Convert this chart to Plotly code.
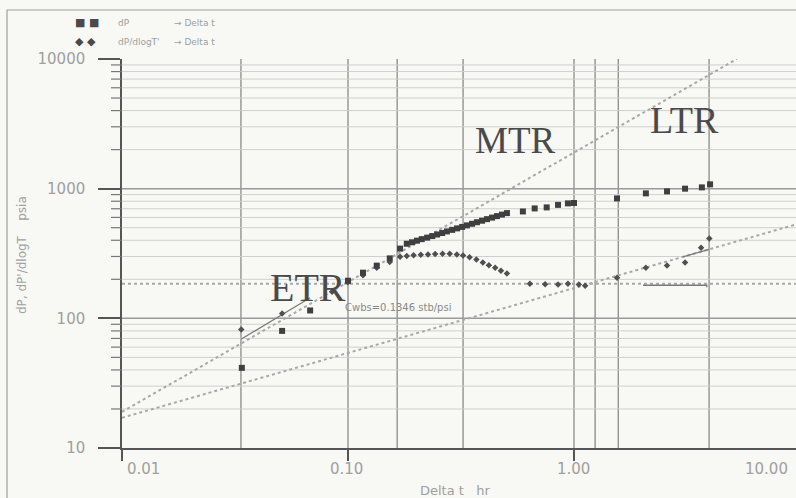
import plotly.graph_objects as go

# ---------------- data ----------------
dp_t = [0.0339, 0.0511, 0.068, 0.100, 0.1165, 0.134, 0.153, 0.170, 0.182, 0.192,
        0.202, 0.212, 0.224, 0.236, 0.248, 0.261, 0.274, 0.289, 0.304, 0.320,
        0.336, 0.354, 0.372, 0.392, 0.412, 0.434, 0.456, 0.480, 0.505, 0.594,
        0.670, 0.757, 0.850, 0.940, 1.00, 1.55, 2.08, 2.58, 3.10, 3.68, 4.00]
dp_v = [41.5, 80, 115, 195, 225, 255, 290, 345, 376, 386,
        397, 408, 419, 431, 443, 455, 468, 481, 494, 507,
        521, 536, 551, 566, 582, 598, 614, 631, 648, 667,
        704, 717, 750, 770, 775, 841, 920, 953, 1000, 1023, 1080]

der_t = [0.0337, 0.0511, 0.085, 0.100, 0.1165, 0.134, 0.153, 0.170, 0.182, 0.195,
         0.210, 0.226, 0.243, 0.262, 0.282, 0.303, 0.323, 0.345, 0.370, 0.395,
         0.420, 0.448, 0.475, 0.505, 0.638, 0.745, 0.85, 0.94, 1.05, 1.12,
         1.55, 2.08, 2.58, 3.10, 3.65, 3.97]
der_v = [82, 109, 160, 190, 215, 245, 272, 299, 303, 306,
         309, 311, 313, 315, 315, 310, 305, 296, 284, 270,
         257, 245, 233, 222, 185, 183, 182, 185, 182, 178,
         206, 246, 255, 269, 351, 413]

# straight model lines (end points)
unit_slope_t = [0.01, 5.26]
unit_slope_v = [19, 10000]
half_slope_t = [0.01, 9.6]
half_slope_v = [17.1, 530]
radial_t = [0.01, 9.6]
radial_v = [185, 185]
wbs_fit_t = [0.0336, 0.068]
wbs_fit_v = [69, 144]
radial_fit_t = [2.02, 3.87, 3.87]
radial_fit_v = [180, 180, 174]
half_fit_t = [3.03, 3.96]
half_fit_v = [298, 340]

marker_times = [0.0336, 0.1, 0.165, 0.323, 1.0, 1.24, 1.57, 3.96]
y_major = [10, 100, 1000, 10000]
y_tick_text = ["10", "100", "1000", "10000"]
x_major = [0.01, 0.1, 1.0]
x_tick_text = ["0.01", "0.10", "1.00", "10.00"]

# ---------------- geometry helpers ----------------
W, H = 796, 498
L, R, T, B = 122, 796, 59, 448


def px_x(x):
    return (x - L) / (R - L)


def px_y(y):
    return (B - y) / (B - T)


BG = "#f8f8f4"
GRID_MINOR = "#cfcfcf"
GRID_MAJOR = "#9a9a9a"
TXT = "#a0a0a0"
MARK = "#3f3f3f"

fig = go.Figure()

# model lines (dotted)
for tt, vv in [(unit_slope_t, unit_slope_v), (half_slope_t, half_slope_v), (radial_t, radial_v)]:
    fig.add_trace(go.Scatter(x=tt, y=vv, mode="lines", showlegend=False, hoverinfo="skip",
                             line=dict(color="#a8a8a8", width=2, dash="dot")))
# solid fit segments
for tt, vv in [(wbs_fit_t, wbs_fit_v), (radial_fit_t, radial_fit_v), (half_fit_t, half_fit_v)]:
    fig.add_trace(go.Scatter(x=tt, y=vv, mode="lines", showlegend=False, hoverinfo="skip",
                             line=dict(color="#7a7a7a", width=1.3)))

fig.add_trace(go.Scatter(x=der_t, y=der_v, mode="markers", name="dP/dlogT'",
                         marker=dict(symbol="diamond", size=5, color="#505050")))
fig.add_trace(go.Scatter(x=dp_t, y=dp_v, mode="markers", name="dP",
                         marker=dict(symbol="square", size=6, color=MARK)))

shapes = []
# vertical marker lines
for t in marker_times:
    shapes.append(dict(type="line", xref="x", yref="paper", x0=t, x1=t, y0=0, y1=1,
                       line=dict(color="#8a8a8a", width=1.3), layer="below"))
# horizontal grid lines (minor and major)
for dec in [10, 100, 1000]:
    for k in range(2, 10):
        v = dec * k
        shapes.append(dict(type="line", xref="paper", yref="y", x0=0, x1=1, y0=v, y1=v,
                           line=dict(color=GRID_MINOR, width=1), layer="below"))
        # minor ticks outside
        shapes.append(dict(type="line", xref="paper", yref="y", x0=px_x(L - 11), x1=0,
                           y0=v, y1=v, line=dict(color="#777777", width=1.2)))
for v in [100, 1000]:
    shapes.append(dict(type="line", xref="paper", yref="y", x0=0, x1=1, y0=v, y1=v,
                       line=dict(color=GRID_MAJOR, width=1.5), layer="below"))
# outer frame
shapes.append(dict(type="rect", xref="paper", yref="paper", x0=px_x(7), x1=px_x(W + 5),
                   y0=px_y(H + 5), y1=px_y(10), line=dict(color="#a0a0a0", width=1.2)))

annotations = []
# x tick labels
for txt, xc in zip(x_tick_text, [143, 346, 573, 766]):
    annotations.append(dict(text=txt, xref="paper", yref="paper", x=px_x(xc), y=px_y(469),
                            showarrow=False, xanchor="center", yanchor="middle",
                            font=dict(family="DejaVu Sans", size=15, color=TXT)))
# axis titles
annotations.append(dict(text="Delta t   hr", xref="paper", yref="paper", x=px_x(455), y=px_y(490),
                        showarrow=False, xanchor="center", yanchor="middle",
                        font=dict(family="DejaVu Sans", size=13, color=TXT)))
annotations.append(dict(text="dP, dP'/dlogT    psia", xref="paper", yref="paper", x=px_x(22),
                        y=px_y(255), showarrow=False, textangle=-90, xanchor="center",
                        yanchor="middle", font=dict(family="DejaVu Sans", size=12, color=TXT)))
# regime labels
for txt, xc, yc, sz in [("ETR", 308, 287, 40), ("MTR", 515, 140, 37), ("LTR", 684, 120, 38)]:
    annotations.append(dict(text=txt, xref="paper", yref="paper", x=px_x(xc), y=px_y(yc),
                            showarrow=False, xanchor="center", yanchor="middle",
                            font=dict(family="Liberation Serif", size=sz, color="#4a4a4a")))
annotations.append(dict(text="Cwbs=0.1346 stb/psi", xref="paper", yref="paper", x=px_x(343),
                        y=px_y(307), showarrow=False, xanchor="left", yanchor="middle",
                        font=dict(family="DejaVu Sans", size=10, color="#8a8a8a")))
# legend
for sym, lab, yc in [("■ ■", "dP", 23), ("◆ ◆", "dP/dlogT'", 42)]:
    annotations.append(dict(text=sym, xref="paper", yref="paper", x=px_x(73), y=px_y(yc),
                            showarrow=False, xanchor="left", yanchor="middle",
                            font=dict(family="DejaVu Sans", size=11, color="#4a4a4a")))
    annotations.append(dict(text=lab, xref="paper", yref="paper", x=px_x(116), y=px_y(yc),
                            showarrow=False, xanchor="left", yanchor="middle",
                            font=dict(family="DejaVu Sans", size=9, color=TXT)))
    annotations.append(dict(text="→ Delta t", xref="paper", yref="paper", x=px_x(172), y=px_y(yc),
                            showarrow=False, xanchor="left", yanchor="middle",
                            font=dict(family="DejaVu Sans", size=9, color=TXT)))

fig.update_layout(
    width=W, height=H,
    margin=dict(l=L, r=W - R, t=T, b=H - B),
    paper_bgcolor=BG, plot_bgcolor=BG,
    showlegend=False,
    shapes=shapes, annotations=annotations,
    xaxis=dict(type="log", range=[-2, -2 + (R - L) / 226.0], showgrid=False, zeroline=False,
               tickvals=x_major, showticklabels=False, ticks="outside", ticklen=11,
               tickcolor="#555555", tickwidth=1.5,
               showline=True, linecolor="#555555", linewidth=1.5),
    yaxis=dict(type="log", range=[1, 4], showgrid=False, zeroline=False,
               tickvals=y_major, ticktext=y_tick_text, ticks="outside", ticklen=22,
               tickcolor="#555555", tickwidth=2, ticklabelstandoff=10,
               tickfont=dict(family="DejaVu Sans", size=15, color=TXT),
               showline=True, linecolor="#555555", linewidth=1.5),
)

fig.write_html("out.html", config={"displayModeBar": False},
               post_script="document.body.style.margin='0';document.body.style.padding='0';"
                           "document.body.style.overflow='hidden';")
